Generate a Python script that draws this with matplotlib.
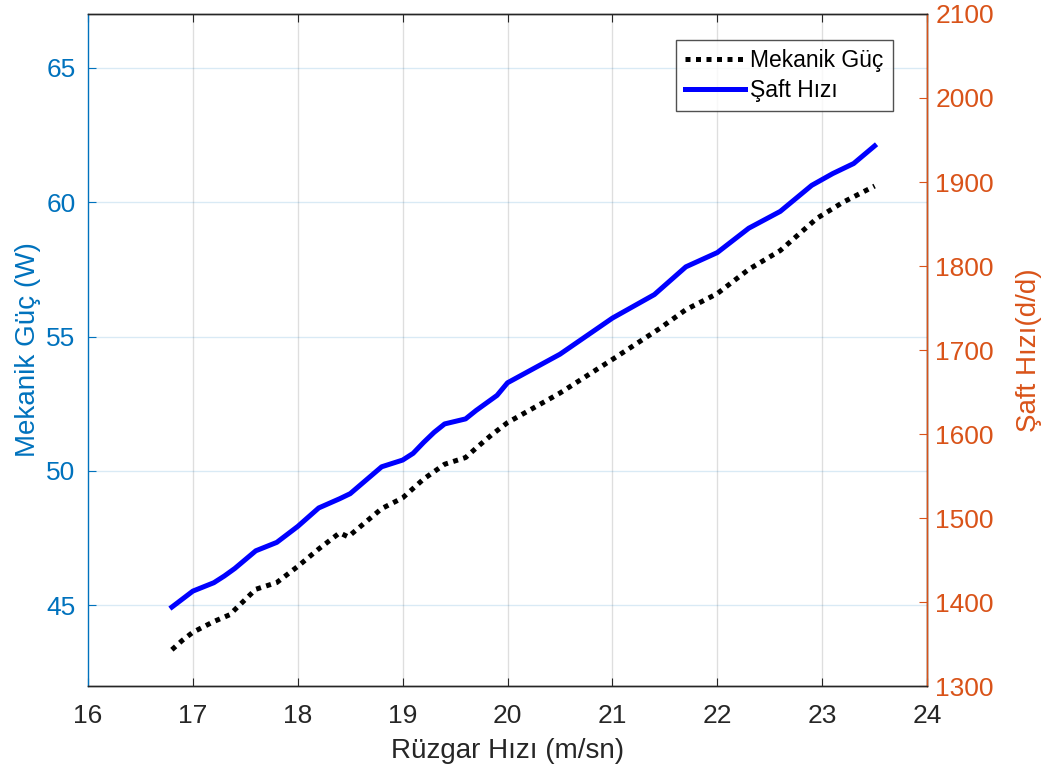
import matplotlib
matplotlib.use("Agg")
import matplotlib.pyplot as plt

plt.rcParams['font.family'] = ['Liberation Sans', 'DejaVu Sans']

# Mechanical power vs wind speed (left axis)
wind_power = [16.8, 16.9, 17.0, 17.2, 17.35, 17.6, 17.8, 18.0, 18.2, 18.4, 18.48,
              18.8, 19.0, 19.2, 19.4, 19.6, 19.7, 19.85, 20.0, 20.5, 21.0, 21.45,
              21.7, 22.0, 22.3, 22.6, 22.95, 23.2, 23.5]
power = [43.35, 43.7, 44.0, 44.4, 44.65, 45.6, 45.85, 46.45, 47.1, 47.7, 47.55,
         48.6, 49.0, 49.7, 50.25, 50.5, 50.85, 51.35, 51.8, 52.9, 54.15, 55.3,
         56.0, 56.6, 57.5, 58.2, 59.4, 60.0, 60.6]

# Shaft speed vs wind speed (right axis)
wind_speed = [16.8, 17.0, 17.2, 17.3, 17.4, 17.6, 17.8, 18.0, 18.2, 18.4, 18.5,
              18.8, 19.0, 19.1, 19.2, 19.3, 19.4, 19.6, 19.7, 19.9, 20.0, 20.5,
              21.0, 21.4, 21.7, 22.0, 22.3, 22.6, 22.9, 23.1, 23.3, 23.5]
shaft = [1394, 1413, 1423, 1431, 1440, 1461, 1471, 1490, 1512, 1523, 1529,
         1561, 1569, 1577, 1590, 1602, 1612, 1618, 1628, 1646, 1661, 1695,
         1738, 1766, 1799, 1816, 1845, 1865, 1896, 1910, 1922, 1943]

left_ticks = [45, 50, 55, 60, 65]
right_ticks = [1300, 1400, 1500, 1600, 1700, 1800, 1900, 2000, 2100]
x_ticks = [16, 17, 18, 19, 20, 21, 22, 23, 24]

c_left = '#0072BD'
c_right = '#D95319'
c_frame = '#262626'

fig = plt.figure(figsize=(10.51, 7.73), dpi=100)
ax = fig.add_axes([0.0837, 0.1125, 0.7984, 0.8694])
ax2 = ax.twinx()

l1, = ax.plot(wind_power, power, color='black', linewidth=3.6,
              linestyle=(0, (1, 1.1)), label='Mekanik Güç')
l2, = ax2.plot(wind_speed, shaft, color='#0000FF', linewidth=3.6,
               label='Şaft Hızı')

ax.set_xlim(16, 24)
ax.set_ylim(42, 67)
ax2.set_ylim(1300, 2100)
ax.set_xticks(x_ticks)
ax.set_yticks(left_ticks)
ax2.set_yticks(right_ticks)

# grid: vertical lines grey, horizontal lines tinted with the left axis colour
for xv in x_ticks[1:-1]:
    ax.axvline(xv, color=c_frame, alpha=0.15, linewidth=1.0, zorder=0)
for yv in left_ticks:
    ax.axhline(yv, color=c_left, alpha=0.15, linewidth=1.0, zorder=0)

tick_fs = 19
ax.tick_params(axis='x', direction='in', length=6, colors=c_frame,
               labelsize=tick_fs, top=True, pad=13)
ax.tick_params(axis='y', direction='in', length=6, colors=c_left,
               labelsize=tick_fs, pad=9)
ax2.tick_params(axis='y', direction='in', length=6, colors=c_right,
                labelsize=tick_fs, pad=6)

ax.spines['left'].set_color(c_left)
ax.spines['top'].set_color(c_frame)
ax.spines['bottom'].set_color(c_frame)
ax2.spines['right'].set_color(c_right)
ax2.spines['left'].set_visible(False)
ax2.spines['top'].set_color(c_frame)
ax2.spines['bottom'].set_color(c_frame)
for sp in list(ax.spines.values()) + list(ax2.spines.values()):
    sp.set_linewidth(1.0)

ax.set_xlabel('Rüzgar Hızı (m/sn)', fontsize=20, color=c_frame, labelpad=7)
ax.set_ylabel('Mekanik Güç (W)', fontsize=20, color=c_left, labelpad=4)
ax2.set_ylabel('Şaft Hızı(d/d)', fontsize=20, color=c_right, labelpad=16)

leg = ax2.legend(handles=[l1, l2], loc='upper right',
                 bbox_to_anchor=(0.959, 0.962), fontsize=16.5, frameon=True,
                 fancybox=False, edgecolor='#262626', handlelength=2.6,
                 handletextpad=0.25, borderpad=0.4, labelspacing=0.3,
                 borderaxespad=0)
leg.get_frame().set_linewidth(1.0)

fig.savefig('out.png', dpi=100)
